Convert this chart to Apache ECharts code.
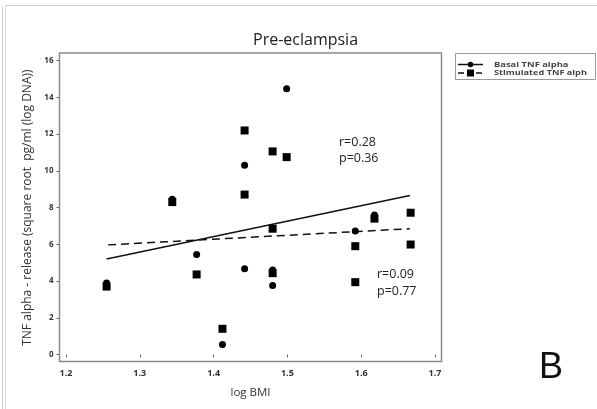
<!DOCTYPE html>
<html><head><meta charset="utf-8">
<script src="https://cdn.jsdelivr.net/npm/echarts@6/dist/echarts.min.js"></script>
<style>html,body{margin:0;padding:0;background:#fff}#c{width:597px;height:409px}</style>
</head><body><div id="c"></div>
<script>
const xTicks = [1.2, 1.3, 1.4, 1.5, 1.6, 1.7];
const yTicks = [0, 2, 4, 6, 8, 10, 12, 14, 16];
const basalX = [1.255, 1.344, 1.377, 1.412, 1.442, 1.442, 1.480, 1.480, 1.499, 1.592, 1.618];
const basalY = [3.9, 8.45, 5.45, 0.55, 10.3, 4.67, 4.6, 3.76, 14.47, 6.72, 7.6];
const stimX = [1.255, 1.344, 1.377, 1.412, 1.442, 1.442, 1.480, 1.480, 1.480, 1.499, 1.592, 1.592, 1.618, 1.667, 1.667];
const stimY = [3.7, 8.3, 4.36, 1.40, 12.2, 8.71, 11.06, 6.85, 4.43, 10.75, 5.9, 3.94, 7.4, 7.72, 5.99];
const basalFitX = [1.255, 1.666];
const basalFitY = [5.2, 8.66];
const stimFitX = [1.257, 1.666];
const stimFitY = [5.97, 6.85];
const legendNames = ['Basal TNF alpha', 'Stimulated TNF alph'];
const statsBasal = ['r=0.28', 'p=0.36'];
const statsStim = ['r=0.09', 'p=0.77'];

const zip = (a, b) => a.map((v, i) => [v, b[i]]);
const font = 'Open Sans';
const chart = echarts.init(document.getElementById('c'), null, {renderer: 'canvas'});
chart.setOption({
  animation: false,
  backgroundColor: '#fff',
  title: {text: 'Pre-eclampsia', left: 248, top: 27,
    textStyle: {fontFamily: font, fontSize: 16, fontWeight: 'normal', color: '#222'}},
  grid: {left: 66, right: 162, top: 60.7, bottom: 54.5},
  xAxis: {type: 'value', min: xTicks[0], max: xTicks[xTicks.length - 1], interval: 0.1, offset: 7,
    axisLine: {show: false}, splitLine: {show: false},
    axisTick: {show: true, length: 3, lineStyle: {color: '#666'}},
    axisLabel: {margin: 7, fontFamily: font, fontSize: 9, color: '#333', fontWeight: 'bold',
      formatter: v => v.toFixed(1)},
    name: 'log BMI', nameLocation: 'middle', nameGap: 25,
    nameTextStyle: {fontFamily: font, fontSize: 11.5, color: '#333'}},
  yAxis: {type: 'value', min: yTicks[0], max: yTicks[yTicks.length - 1], interval: 2, offset: 6.5,
    axisLine: {show: false}, splitLine: {show: false},
    axisTick: {show: true, length: 3, lineStyle: {color: '#666'}},
    axisLabel: {margin: 6, fontFamily: font, fontSize: 8, color: '#333', fontWeight: 'bold'},
    name: 'TNF alpha - release (square root  pg/ml (log DNA))', nameLocation: 'middle', nameGap: 24,
    nameTextStyle: {fontFamily: font, fontSize: 12, color: '#333'}},
  series: [
    {type: 'line', data: zip(basalFitX, basalFitY), symbol: 'none', z: 3,
      lineStyle: {color: '#111', width: 1.5}},
    {type: 'line', data: zip(stimFitX, stimFitY), symbol: 'none', z: 3,
      lineStyle: {color: '#111', width: 1.5, type: [8, 5]}},
    {name: legendNames[0], type: 'scatter', data: zip(basalX, basalY), symbol: 'circle', symbolSize: 7,
      itemStyle: {color: '#000', opacity: 1}, z: 4},
    {name: legendNames[1], type: 'scatter', data: zip(stimX, stimY), symbol: 'rect', symbolSize: 8,
      itemStyle: {color: '#000', opacity: 1}, z: 4}
  ],
  graphic: [
    {type: 'line', shape: {x1: 2.5, y1: 6, x2: 2.5, y2: 409}, style: {stroke: '#ccc', lineWidth: 1}},
    {type: 'line', shape: {x1: 5.5, y1: 6, x2: 5.5, y2: 409}, style: {stroke: '#ddd', lineWidth: 1}},
    {type: 'line', shape: {x1: 5.5, y1: 5.5, x2: 597, y2: 5.5}, style: {stroke: '#ccc', lineWidth: 1}},
    {type: 'rect', shape: {x: 59.5, y: 53, width: 382, height: 308.5}, style: {fill: 'none', stroke: '#8a8a8a', lineWidth: 1.5}, z: 1},
    {type: 'text', x: 339, y: 142, style: {text: statsBasal[0], font: '12.5px "Open Sans"', fill: '#222', verticalAlign: 'middle'}},
    {type: 'text', x: 339, y: 158.5, style: {text: statsBasal[1], font: '12.5px "Open Sans"', fill: '#222', verticalAlign: 'middle'}},
    {type: 'text', x: 377, y: 274, style: {text: statsStim[0], font: '12.5px "Open Sans"', fill: '#222', verticalAlign: 'middle'}},
    {type: 'text', x: 377, y: 291, style: {text: statsStim[1], font: '12.5px "Open Sans"', fill: '#222', verticalAlign: 'middle'}},
    {type: 'rect', shape: {x: 455.5, y: 53.5, width: 140, height: 26}, style: {fill: 'none', stroke: '#999', lineWidth: 1}},
    {type: 'line', shape: {x1: 458, y1: 64.5, x2: 483, y2: 64.5}, style: {stroke: '#111', lineWidth: 1.5}},
    {type: 'circle', shape: {cx: 470.5, cy: 64.5, r: 2.8}, style: {fill: '#000'}},
    {type: 'line', shape: {x1: 458, y1: 73, x2: 483, y2: 73}, style: {stroke: '#111', lineWidth: 1.5, lineDash: [6, 3]}},
    {type: 'rect', shape: {x: 467, y: 69.5, width: 7, height: 7}, style: {fill: '#000'}},
    {type: 'text', x: 494, y: 64.5, scaleX: 1.25, style: {text: legendNames[0], font: 'bold 7.5px "Open Sans"', fill: '#444', verticalAlign: 'middle'}},
    {type: 'text', x: 494, y: 73, scaleX: 1.22, style: {text: legendNames[1], font: 'bold 7.5px "Open Sans"', fill: '#444', verticalAlign: 'middle'}},
    {type: 'text', x: 551, y: 386, style: {text: 'B', font: '36px "Liberation Sans"', fill: '#111', align: 'center', verticalAlign: 'bottom'}}
  ]
});
</script></body></html>
